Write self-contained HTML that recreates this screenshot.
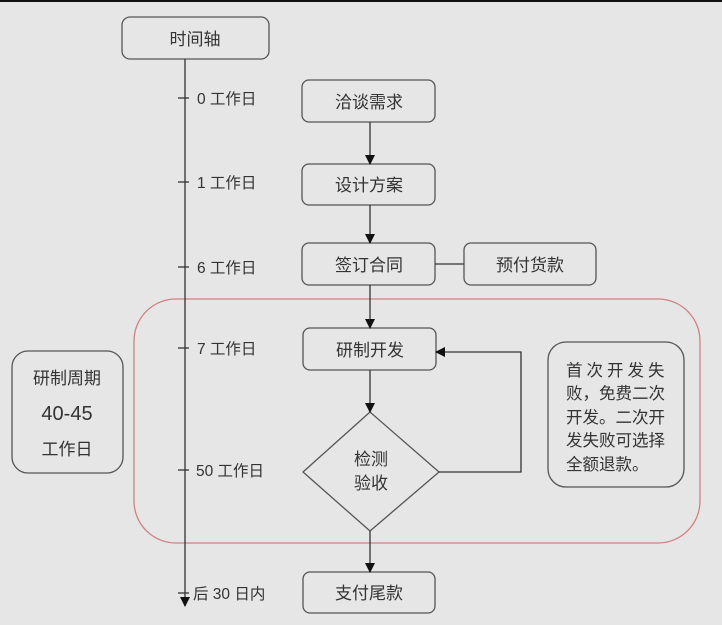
<!DOCTYPE html>
<html><head><meta charset="utf-8"><style>
html,body{margin:0;padding:0;background:#e6e6e6;}
svg{display:block;}
text{font-family:"Liberation Sans","Noto Sans CJK SC",sans-serif;fill:#333;}
</style></head><body>
<svg width="722" height="625" viewBox="0 0 722 625" xmlns="http://www.w3.org/2000/svg">
<defs>
<marker id="a" markerWidth="10" markerHeight="10" refX="9" refY="5" orient="auto" markerUnits="userSpaceOnUse">
<path d="M0,0 L10,5 L0,10 z" fill="#111"/></marker>
</defs>
<rect x="0" y="0" width="722" height="625" fill="#e6e6e6"/>
<rect x="0" y="0" width="722" height="2" fill="#111"/>
<rect x="134" y="299" width="566" height="244" rx="42" fill="none" stroke="#d08080" stroke-width="1.3"/>
<g fill="none" stroke="#555" stroke-width="1.3">
<rect x="122" y="17" width="147" height="42" rx="8"/>
<rect x="302" y="80" width="133" height="42" rx="7"/>
<rect x="302" y="164" width="133" height="41" rx="7"/>
<rect x="302" y="243" width="133" height="42" rx="7"/>
<rect x="464" y="243" width="132" height="42" rx="7"/>
<rect x="303" y="328" width="133" height="42" rx="7"/>
<rect x="303" y="572" width="132" height="41" rx="7"/>
<rect x="12" y="351" width="111" height="122" rx="16"/>
<rect x="548" y="342" width="136" height="145" rx="18"/>
<polygon points="370,412 439,472 370,531 303,472"/>
</g>
<g stroke="#333" stroke-width="1.3" fill="none">
<line x1="185" y1="59" x2="185" y2="606" marker-end="url(#a)"/>
<line x1="178" y1="98" x2="189" y2="98"/>
<line x1="178" y1="182" x2="189" y2="182"/>
<line x1="178" y1="267" x2="189" y2="267"/>
<line x1="178" y1="348" x2="189" y2="348"/>
<line x1="178" y1="470" x2="189" y2="470"/>
<line x1="178" y1="593" x2="189" y2="593"/>
<line x1="370" y1="122" x2="370" y2="164" marker-end="url(#a)"/>
<line x1="370" y1="205" x2="370" y2="243" marker-end="url(#a)"/>
<line x1="370" y1="285" x2="370" y2="328" marker-end="url(#a)"/>
<line x1="370" y1="370" x2="370" y2="412" marker-end="url(#a)"/>
<line x1="370" y1="531" x2="370" y2="572" marker-end="url(#a)"/>
<line x1="435" y1="264" x2="464" y2="264"/>
<polyline points="439,472 521,472 521,352 436,352" marker-end="url(#a)"/>
</g>
<g font-size="17" text-anchor="middle">
<text x="195" y="45">时间轴</text>
<text x="369" y="108">洽谈需求</text>
<text x="369" y="191">设计方案</text>
<text x="369" y="271">签订合同</text>
<text x="530" y="271">预付货款</text>
<text x="370" y="356">研制开发</text>
<text x="369" y="599">支付尾款</text>
<text x="371" y="465">检测</text>
<text x="371" y="489">验收</text>
<text x="67" y="384">研制周期</text>
<text x="67" y="420" font-size="20">40-45</text>
<text x="67" y="455">工作日</text>
</g>
<g font-size="15.5">
<text x="197" y="104">0 工作日</text>
<text x="197" y="188">1 工作日</text>
<text x="197" y="273">6 工作日</text>
<text x="197" y="354">7 工作日</text>
<text x="196" y="476">50 工作日</text>
<text x="193" y="599">后 30 日内</text>
</g>
<g font-size="16.5">
<text x="566" y="376" letter-spacing="4">首次开发失</text>
<text x="566" y="399">败，免费二次</text>
<text x="566" y="423">开发。二次开</text>
<text x="566" y="446">发失败可选择</text>
<text x="566" y="470">全额退款。</text>
</g>
</svg>
</body></html>
